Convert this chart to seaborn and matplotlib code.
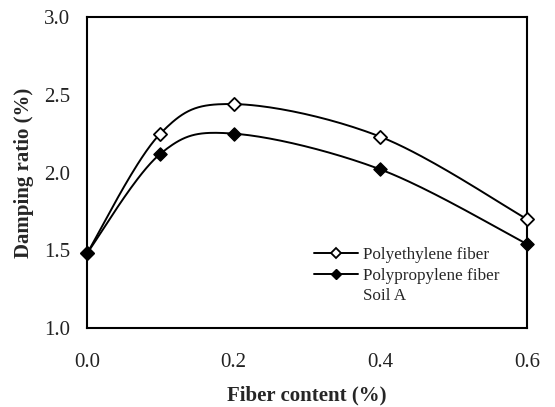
import numpy as np
import pandas as pd
import matplotlib
matplotlib.use("Agg")
import matplotlib.pyplot as plt
import seaborn as sns
from matplotlib.lines import Line2D
from matplotlib.ticker import MultipleLocator

fiber_content = [0.0, 0.1, 0.2, 0.4, 0.6]
polyethylene = [1.48, 2.25, 2.44, 2.23, 1.70]
polypropylene = [1.48, 2.12, 2.25, 2.02, 1.54]
series_names = ["Polyethylene fiber", "Polypropylene fiber"]

sns.set_theme(style="white")
plt.rcParams['font.family'] = ['Liberation Serif', 'DejaVu Serif']
plt.rcParams['mathtext.fontset'] = 'stix'


def smooth(x, y, n=40):
    # Catmull-Rom style Bezier smoothing (like spreadsheet "smoothed line")
    x = np.asarray(x, float); y = np.asarray(y, float)
    px, py = [], []
    for i in range(len(x) - 1):
        x0, y0 = (x[i - 1], y[i - 1]) if i > 0 else (x[i], y[i])
        x1, y1 = x[i], y[i]
        x2, y2 = x[i + 1], y[i + 1]
        x3, y3 = (x[i + 2], y[i + 2]) if i + 2 < len(x) else (x2, y2)
        c1x, c1y = x1 + (x2 - x0) / 6, y1 + (y2 - y0) / 6
        c2x, c2y = x2 - (x3 - x1) / 6, y2 - (y3 - y1) / 6
        t = np.linspace(0, 1, n)
        bx = (1 - t) ** 3 * x1 + 3 * (1 - t) ** 2 * t * c1x + 3 * (1 - t) * t ** 2 * c2x + t ** 3 * x2
        by = (1 - t) ** 3 * y1 + 3 * (1 - t) ** 2 * t * c1y + 3 * (1 - t) * t ** 2 * c2y + t ** 3 * y2
        px.extend(bx); py.extend(by)
    return np.array(px), np.array(py)


fig = plt.figure(figsize=(5.55, 4.07), dpi=100)
ax = fig.add_axes([87 / 555, 1 - 328 / 407, 440 / 555, 311 / 407])

df = pd.DataFrame({
    "x": fiber_content * 2,
    "y": polyethylene + polypropylene,
    "s": [series_names[0]] * 5 + [series_names[1]] * 5,
})

for name, ys in zip(series_names, [polyethylene, polypropylene]):
    sx, sy = smooth(fiber_content, ys)
    sns.lineplot(x=sx, y=sy, ax=ax, color="black", lw=1.4, sort=False, estimator=None)

sub1 = df[df.s == series_names[0]]
sub2 = df[df.s == series_names[1]]
sns.scatterplot(data=sub1, x="x", y="y", ax=ax, marker="D", s=45, facecolor="white",
                edgecolor="black", linewidth=1.3, zorder=5, clip_on=False)
sns.scatterplot(data=sub2, x="x", y="y", ax=ax, marker="D", s=45, color="black",
                edgecolor="black", linewidth=1.0, zorder=6, clip_on=False)

ax.set_xlim(0, 0.6)
ax.set_ylim(1.0, 3.0)
ax.xaxis.set_major_locator(MultipleLocator(0.2))
ax.xaxis.set_minor_locator(MultipleLocator(0.1))
ax.yaxis.set_major_locator(MultipleLocator(0.5))
ax.yaxis.set_minor_locator(MultipleLocator(0.25))
ax.set_xticklabels([f"{v:.1f}" for v in ax.get_xticks()])
ax.set_yticklabels([f"{v:.1f}" for v in ax.get_yticks()])
ax.tick_params(which="both", direction="in", width=1.2, color="black", labelsize=15,
               labelcolor="#222222")
ax.tick_params(which="major", length=5)
ax.tick_params(which="minor", length=5)
ax.tick_params(axis="x", which="both", pad=18)
ax.tick_params(axis="y", which="both", pad=12)
for sp in ax.spines.values():
    sp.set_visible(True)
    sp.set_color("black")
    sp.set_linewidth(1.5)

ax.set_xlabel("Fiber content (%)", fontsize=15, fontweight="bold", labelpad=10)
ax.set_ylabel("Damping ratio (%)", fontsize=15, fontweight="bold", labelpad=7)

handles = [
    Line2D([], [], color="black", lw=1.4, marker="D", markersize=5.5, markerfacecolor="white",
           markeredgecolor="black", markeredgewidth=1.3),
    Line2D([], [], color="black", lw=1.4, marker="D", markersize=5.5, markerfacecolor="black",
           markeredgecolor="black"),
    Line2D([], [], color="none", lw=0),
]
ax.legend(handles, series_names + ["Soil A"], loc="upper left",
          bbox_to_anchor=(314 / 555, 1 - 247 / 407), bbox_transform=fig.transFigure,
          frameon=False, fontsize=12.3, handlelength=2.6, handletextpad=0.25,
          labelspacing=0.27, borderpad=0, borderaxespad=0)

fig.savefig("out.png", dpi=100)
